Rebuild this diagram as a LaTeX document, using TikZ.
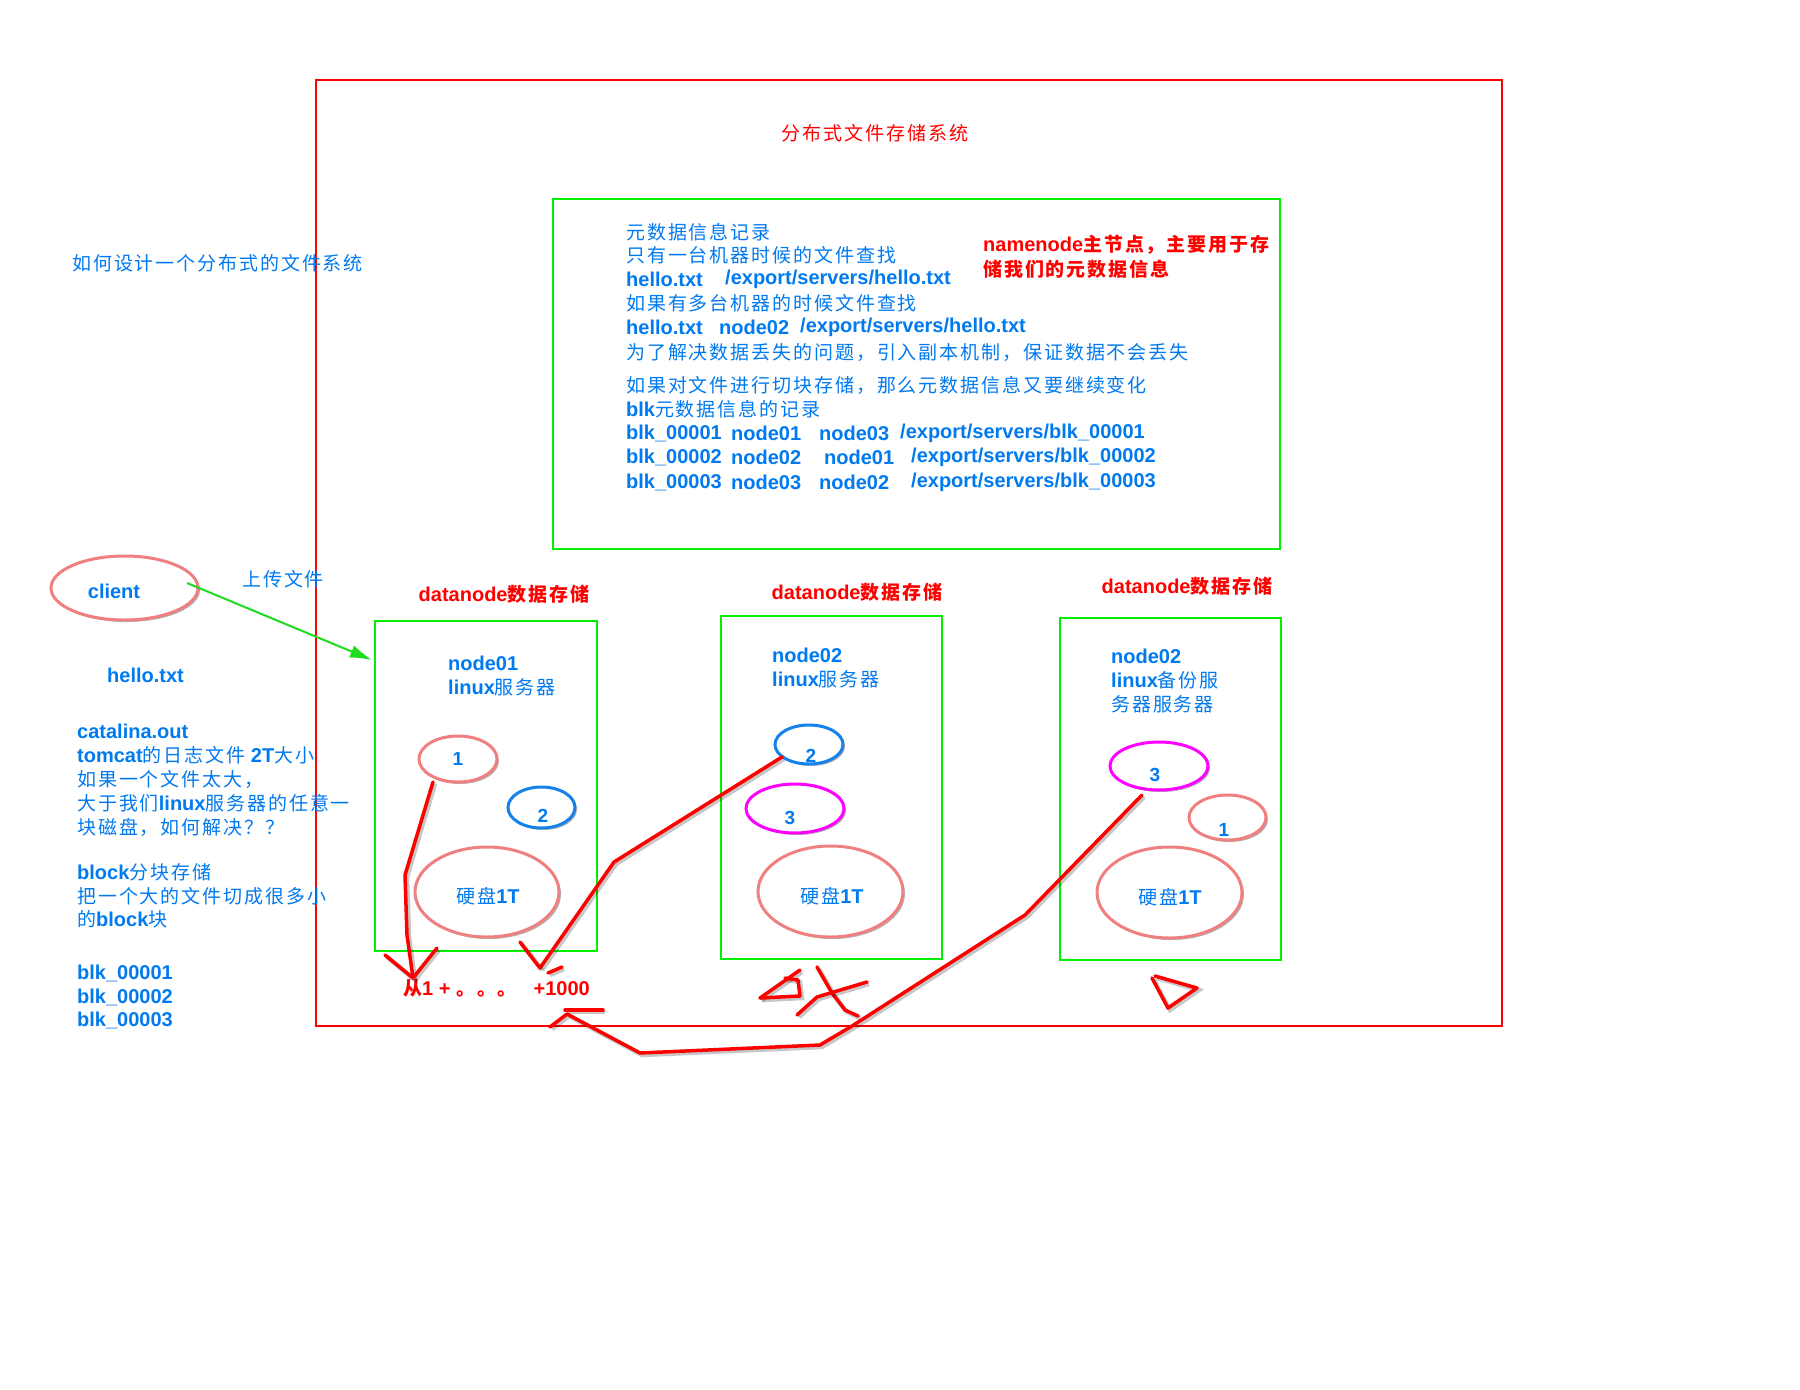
\documentclass[tikz,border=0pt]{standalone}
\usepackage{fontspec}
\setmainfont{Liberation Sans}
\newfontfamily\latf{Liberation Sans}[UprightFont={* Bold},BoldFont={* Bold}]
\newfontfamily\cjkf{Noto Sans CJK SC}[Scale=0.95,LetterSpace=10]
\usetikzlibrary{shapes.geometric,arrows.meta,shadows}
% automatic switching between Latin and CJK fonts
\chardef\CJKcls=77
\newcount\cjkcnt
\XeTeXinterchartokenstate=1
\cjkcnt="4E00 \loop\XeTeXcharclass\cjkcnt=\CJKcls\relax\advance\cjkcnt by 1\relax\ifnum\cjkcnt<"A000\relax\repeat
\cjkcnt="3000 \loop\XeTeXcharclass\cjkcnt=\CJKcls\relax\advance\cjkcnt by 1\relax\ifnum\cjkcnt<"3040\relax\repeat
\cjkcnt="FF00 \loop\XeTeXcharclass\cjkcnt=\CJKcls\relax\advance\cjkcnt by 1\relax\ifnum\cjkcnt<"FFF0\relax\repeat
\XeTeXinterchartoks 0 \CJKcls = {\cjkf}
\XeTeXinterchartoks 4095 \CJKcls = {\cjkf}
\XeTeXinterchartoks \CJKcls 0 = {\latf}
\XeTeXinterchartoks \CJKcls 4095 = {\latf}
\definecolor{tblue}{RGB}{0,122,240}
\definecolor{tred}{RGB}{255,0,0}
\definecolor{gbox}{RGB}{0,240,0}
\definecolor{garrow}{RGB}{30,220,30}
\definecolor{epink}{RGB}{240,128,128}
\definecolor{eblue}{RGB}{20,130,235}
\definecolor{emag}{RGB}{255,0,255}
\tikzset{
  bt/.style={text=tblue, font=\fontsize{20}{24}\latf, inner sep=0, anchor=west},
  rt/.style={text=tred, font=\fontsize{20}{24}\bfseries\latf, inner sep=0},
  greenbox/.style={draw=gbox, line width=2, inner sep=0},
  ellbase/.style={ellipse, line width=3, fill=white, inner sep=0,
    drop shadow={shadow xshift=2pt, shadow yshift=-2pt, opacity=0.3, fill=black}},
  pinkell/.style={ellbase, draw=epink},
  blueell/.style={ellbase, draw=eblue},
  magell/.style={ellbase, draw=emag},
  num/.style={text=tblue, font=\fontsize{19}{22}\latf, inner sep=0},
  redink/.style={draw=tred, line width=3.5, line cap=round, line join=round,
    preaction={draw=black, opacity=0.22, line width=4.5,
      transform canvas={shift={(2pt,-2pt)}}}},
}
\begin{document}
\begin{tikzpicture}[x=1pt,y=-1pt]
\fill[white] (0,0) rectangle (1800,1390);
\useasboundingbox (0,0) rectangle (1800,1390);

% outer frame and title
\node[draw=tred, line width=2, minimum width=1186, minimum height=946, inner sep=0] (outer) at (909,553) {};
\node[text=tred, font=\fontsize{20}{24}\latf, inner sep=0] (title) at (875,133) {分布式文件存储系统};

% namenode box
\node[greenbox, minimum width=727, minimum height=350] (nn) at (916.5,374) {};
\node[bt] (m1) at (626,232) {元数据信息记录};
\node[bt] (m2) at (626,255) {只有一台机器时候的文件查找};
\node[bt] (m3a) at (626,279) {hello.txt};
\node[bt] (m3b) at (725,279) {/export/servers/hello.txt};
\node[bt] (m4) at (626,303) {如果有多台机器的时候文件查找};
\node[bt] (m5a) at (626,327) {hello.txt};
\node[bt] (m5b) at (719,327) {node02};
\node[bt] (m5c) at (800,327) {/export/servers/hello.txt};
\node[bt] (m6) at (626,352) {为了解决数据丢失的问题，引入副本机制，保证数据不会丢失};
\node[bt] (m7) at (626,385) {如果对文件进行切块存储，那么元数据信息又要继续变化};
\node[bt] (m8) at (626,409) {blk元数据信息的记录};
\node[bt] (m9a) at (626,433) {blk\_00001};
\node[bt] (m9b) at (731,433) {node01};
\node[bt] (m9c) at (819,433) {node03};
\node[bt] (m9d) at (900,433) {/export/servers/blk\_00001};
\node[bt] (m10a) at (626,457) {blk\_00002};
\node[bt] (m10b) at (731,457) {node02};
\node[bt] (m10c) at (824,457) {node01};
\node[bt] (m10d) at (911,457) {/export/servers/blk\_00002};
\node[bt] (m11a) at (626,482) {blk\_00003};
\node[bt] (m11b) at (731,482) {node03};
\node[bt] (m11c) at (819,482) {node02};
\node[bt] (m11d) at (911,482) {/export/servers/blk\_00003};
\node[rt, anchor=west] (nnl1) at (983,245) {namenode主节点，主要用于存};
\node[rt, anchor=west] (nnl2) at (983,269) {储我们的元数据信息};

% left side
\node[bt] (q) at (72,263) {如何设计一个分布式的文件系统};
\node[pinkell, minimum width=147, minimum height=64] (client) at (124.5,588) {};
\node[bt, anchor=center] (clientt) at (114,591) {client};
\node[bt] (up) at (242,579) {上传文件};
\node[bt] (hello) at (107,675) {hello.txt};
\node[bt] (l1) at (77,731) {catalina.out};
\node[bt] (l2) at (77,755) {tomcat的日志文件 2T大小};
\node[bt] (l3) at (77,779) {如果一个文件太大，};
\node[bt] (l4) at (77,803) {大于我们linux服务器的任意一};
\node[bt] (l5) at (77,827) {块磁盘，如何解决？？};
\node[bt] (l6) at (77,872) {block分块存储};
\node[bt] (l7) at (77,896) {把一个大的文件切成很多小};
\node[bt] (l8) at (77,919) {的block块};
\node[bt] (l9) at (77,973) {blk\_00001};
\node[bt] (l10) at (77,997) {blk\_00002};
\node[bt] (l11) at (77,1020) {blk\_00003};

% datanode 1
\node[rt] (dl1) at (504,594) {datanode数据存储};
\node[greenbox, minimum width=222, minimum height=330] (box1) at (486,786) {};
\node[bt] (b1a) at (448,663) {node01};
\node[bt] (b1b) at (448,687) {linux服务器};
\node[pinkell, minimum width=78, minimum height=46] (e11) at (458,759) {};
\node[num] (e11t) at (458,759) {1};
\node[blueell, minimum width=67, minimum height=41] (e12) at (541.5,807.5) {};
\node[num] (e12t) at (543,816) {2};
\node[pinkell, minimum width=144, minimum height=90] (d1) at (487,892) {};
\node[bt, anchor=center] (d1t) at (488,896) {硬盘1T};

% datanode 2
\node[rt] (dl2) at (857,592) {datanode数据存储};
\node[greenbox, minimum width=221, minimum height=343] (box2) at (831.5,787.5) {};
\node[bt] (b2a) at (772,655) {node02};
\node[bt] (b2b) at (772,679) {linux服务器};
\node[blueell, minimum width=68, minimum height=39] (e22) at (809,744.5) {};
\node[num] (e22t) at (811,756) {2};
\node[magell, minimum width=98, minimum height=49] (e23) at (795,808.5) {};
\node[num] (e23t) at (790,818) {3};
\node[pinkell, minimum width=145, minimum height=91] (d2) at (830.5,891.5) {};
\node[bt, anchor=center] (d2t) at (832,896) {硬盘1T};

% datanode 3
\node[rt] (dl3) at (1187,586) {datanode数据存储};
\node[greenbox, minimum width=221, minimum height=342] (box3) at (1170.5,789) {};
\node[bt] (b3a) at (1111,656) {node02};
\node[bt] (b3b) at (1111,680) {linux备份服};
\node[bt] (b3c) at (1111,704) {务器服务器};
\node[magell, minimum width=98, minimum height=48] (e33) at (1159,766) {};
\node[num] (e33t) at (1155,775) {3};
\node[pinkell, minimum width=77, minimum height=45] (e31) at (1227.5,817.5) {};
\node[num] (e31t) at (1224,830) {1};
\node[pinkell, minimum width=145, minimum height=91] (d3) at (1169.5,892.5) {};
\node[bt, anchor=center] (d3t) at (1170,897) {硬盘1T};

% bottom text
\node[rt, anchor=west] (sum) at (403,988) {从1 + 。。。\ \ \ +1000};

% upload arrow
\coordinate (arrS) at (187,583);
\coordinate (arrE) at (372,660);
\draw[garrow, line width=2, -{Latex[length=22pt,width=13pt]}] (arrS) -- (arrE);

% hand-drawn red strokes
\coordinate (a0) at (433,782);
\coordinate (a3) at (413,978);
\draw[redink] (a0) -- (405,875) -- (407,935) -- (a3);
\draw[redink] (385,955) -- (a3) -- (437,948);

\coordinate (b0) at (782,757);
\coordinate (b2) at (540,968);
\draw[redink] (b0) -- (614,862) -- (b2);
\draw[redink] (520,942) -- (b2);
\draw[redink] (548,973) -- (562,967);

\coordinate (c0) at (1142,795);
\draw[redink] (c0) -- (1025,915) -- (852,1026) -- (820,1045) -- (640,1053) -- (567,1014) -- (550,1027);
\draw[redink] (565,1010) -- (603,1010);

\draw[redink] (760,998) -- (800,970);
\draw[redink] (785,978) -- (798,980) -- (800,996) -- (760,998);
\draw[redink] (817,967) -- (832,993) -- (845,1010) -- (858,1016);
\draw[redink] (797,1015) -- (817,997) -- (867,982);

\draw[redink] (1155,976) -- (1197,988) -- (1168,1008) -- (1152,978);
\end{tikzpicture}
\end{document}
